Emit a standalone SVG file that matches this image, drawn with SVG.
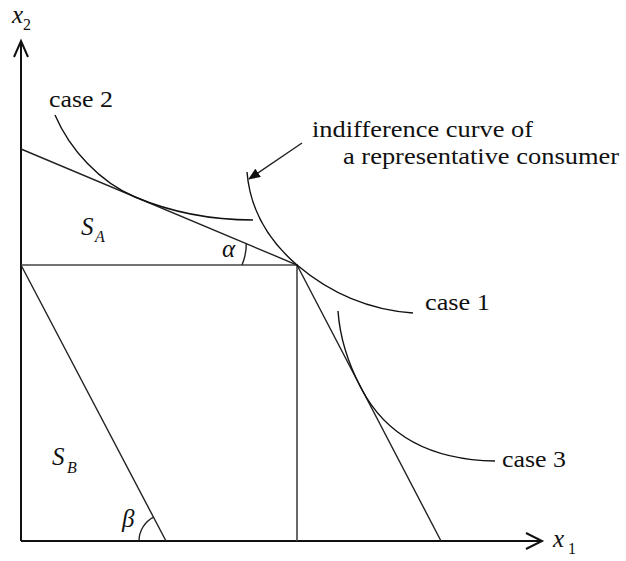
<svg xmlns="http://www.w3.org/2000/svg" width="626" height="561" viewBox="0 0 626 561">
<defs>
<style>
.ax{stroke:#111;stroke-width:2;fill:none}
.ln{stroke:#222;stroke-width:1.4;fill:none}
.gr{stroke:#444;stroke-width:1.6;fill:none}
.cv{stroke:#111;stroke-width:1.4;fill:none}
</style>
<marker id="fa" viewBox="0 0 12 10" refX="11" refY="5" markerWidth="12" markerHeight="10" markerUnits="userSpaceOnUse" orient="auto">
<path d="M0,0 L12,5 L0,10 Z" fill="#111"/>
</marker>
</defs>
<rect width="626" height="561" fill="#fff"/>
<g id="axes">
<path class="ax" d="M21,541 V41"/>
<path class="ax" d="M14,57 L21,41 L28,57"/>
<path class="ax" d="M21,541 H542"/>
<path class="ax" d="M526,533 L542,541 L526,549"/>
</g>
<g id="budget-lines">
<path class="gr" d="M21,265 H297 V541"/>
<path class="ln" d="M21,149 L297,265 L441,541"/>
<path class="ln" d="M21,265 L166,541"/>
<path class="ln" d="M242,265 A55,55 0 0 0 246.3,243.7"/>
<path class="ln" d="M139,541 A27,27 0 0 1 153.6,517.1"/>
</g>
<g id="curves">
<path id="case2" class="cv" d="M55,115 C70,150 100,182.2 135,197 C170,211.7 210,220 253,220"/>
<path id="case1" class="cv" d="M247,172 C250,210 268,240 297,265 C330,293 370,310 413,313"/>
<path id="case3" class="cv" d="M338,311 C340,340 349,365 361,388 C386,436 430,460 495,461"/>
</g>
<g id="connectors">
<path class="ln" d="M302,143 L249,179" marker-end="url(#fa)"/>
</g>
<g id="labels" font-family="Liberation Serif" fill="#111">
<text font-family="Liberation Serif" font-style="italic" font-size="25" x="12" y="23">x</text>
<text font-family="Liberation Serif" font-size="16" x="23" y="30">2</text>
<text font-family="Liberation Serif" font-style="italic" font-size="25" x="553" y="547">x</text>
<text font-family="Liberation Serif" font-size="16" x="568" y="554">1</text>
<text font-family="Liberation Serif" font-style="italic" font-size="25" x="81" y="235">S</text>
<text font-family="Liberation Serif" font-style="italic" font-size="16" x="95" y="242">A</text>
<text font-family="Liberation Serif" font-style="italic" font-size="25" x="52" y="465">S</text>
<text font-family="Liberation Serif" font-style="italic" font-size="16" x="67" y="473">B</text>
<text font-family="Liberation Serif" font-style="italic" font-size="25" x="222" y="257">α</text>
<text font-family="Liberation Serif" font-style="italic" font-size="25" x="122" y="527">β</text>
<text font-family="Liberation Serif" font-size="23" x="49" y="107" textLength="64" lengthAdjust="spacingAndGlyphs">case 2</text>
<text font-family="Liberation Serif" font-size="23" x="425" y="310" textLength="65" lengthAdjust="spacingAndGlyphs">case 1</text>
<text font-family="Liberation Serif" font-size="23" x="502" y="467" textLength="64" lengthAdjust="spacingAndGlyphs">case 3</text>
<text font-family="Liberation Serif" font-size="23" x="312" y="137" textLength="221" lengthAdjust="spacingAndGlyphs">indifference curve of</text>
<text font-family="Liberation Serif" font-size="23" x="343" y="164" textLength="276" lengthAdjust="spacingAndGlyphs">a representative consumer</text>
</g>
</svg>
